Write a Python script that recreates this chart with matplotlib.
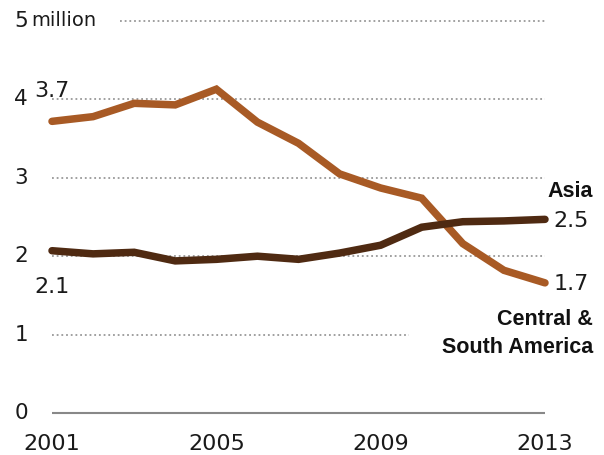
import matplotlib
matplotlib.use("Agg")
import matplotlib.pyplot as plt

# dados (milhões)
years = list(range(2001, 2014))
central_south_america = [3.72, 3.78, 3.95, 3.93, 4.13, 3.71, 3.44, 3.05, 2.87, 2.74, 2.16, 1.82, 1.66]
asia = [2.07, 2.03, 2.05, 1.94, 1.96, 2.00, 1.96, 2.04, 2.14, 2.37, 2.44, 2.45, 2.47]
x_ticks = [2001, 2005, 2009, 2013]
y_ticks = [0, 1, 2, 3, 4, 5]

orange = "#A85A25"
brown = "#4F2A12"
txt = "#1a1a1a"

fig = plt.figure(figsize=(6.04, 4.55), dpi=100)
W, H = 604, 455
ax = fig.add_axes([52 / W, (H - 413) / H, (545 - 52) / W, (413 - 21) / H])
ax.set_xlim(2001, 2013)
ax.set_ylim(0, 5)
ax.axis("off")

# linhas de grade pontilhadas
grid_kw = dict(color="#999999", linestyle=(0, (1, 1.6)), linewidth=1.3, clip_on=False)
ax.hlines(5, 2002.66, 2013, **grid_kw)
for y in [4, 3, 2]:
    ax.hlines(y, 2001, 2013, **grid_kw)
ax.hlines(1, 2001, 2009.7, **grid_kw)
ax.hlines(0, 2001, 2013, color="#888888", linewidth=1.5, clip_on=False)

# séries
ax.plot(years, central_south_america, color=orange, linewidth=5.4,
        solid_capstyle="round", solid_joinstyle="miter", clip_on=False)
ax.plot(years, asia, color=brown, linewidth=5.4,
        solid_capstyle="round", solid_joinstyle="miter", clip_on=False)

# rótulos dos eixos
for y in y_ticks:
    ax.text(2000.25, y, str(y), fontsize=15.5, ha="center", va="center", color=txt)
ax.text(2000.5, 5, "million", fontsize=14, ha="left", va="center", color=txt)
for x in x_ticks:
    ax.text(x, -0.40, str(x), fontsize=16, ha="center", va="center", color=txt)

# rótulos de valores
ax.text(years[0], 4.11, f"{central_south_america[0]:.1f}", fontsize=16, ha="center", va="center", color=txt)
ax.text(years[0], 1.61, f"{asia[0]:.1f}", fontsize=16, ha="center", va="center", color=txt)
ax.text(2013.2, 2.455, f"{asia[-1]:.1f}", fontsize=16, ha="left", va="center", color=txt)
ax.text(2013.2, 1.645, f"{central_south_america[-1]:.1f}", fontsize=16, ha="left", va="center", color=txt)

bold = dict(fontsize=15.5, fontweight="bold", family="Liberation Sans", ha="right", va="center", color="#111111")
ax.text(2014.17, 2.82, "Asia", **bold)
ax.text(2014.17, 1.19, "Central &", **bold)
ax.text(2014.17, 0.84, "South America", **bold)

fig.savefig("out.png", dpi=100)
